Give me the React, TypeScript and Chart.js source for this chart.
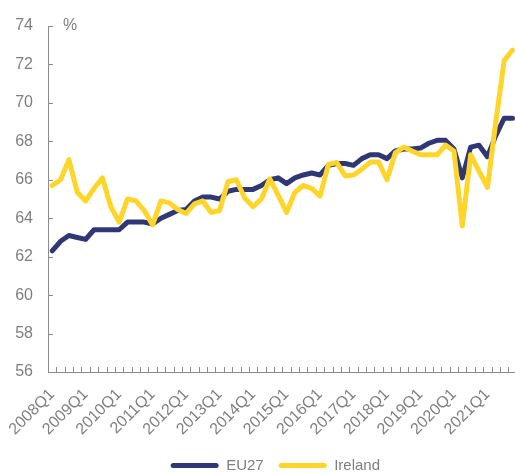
import React, { useEffect, useRef } from "react";
import { Chart, registerables } from "chart.js";

Chart.register(...registerables);

const YEARS = [2008, 2009, 2010, 2011, 2012, 2013, 2014, 2015, 2016, 2017, 2018, 2019, 2020, 2021];
const QUARTERS = ["Q1", "Q2", "Q3", "Q4"];
const CATEGORIES: string[] = YEARS.flatMap((y) => QUARTERS.map((q) => `${y}${q}`));

const EU27 = [
  62.3, 62.8, 63.1, 63.0,
  62.9, 63.4, 63.4, 63.4,
  63.4, 63.8, 63.8, 63.8,
  63.7, 64.0, 64.2, 64.4,
  64.45, 64.9, 65.1, 65.1,
  65.0, 65.4, 65.5, 65.5,
  65.5, 65.7, 66.0, 66.1,
  65.8, 66.1, 66.25, 66.35,
  66.25, 66.75, 66.85, 66.85,
  66.75, 67.1, 67.3, 67.3,
  67.1, 67.5, 67.6, 67.6,
  67.65, 67.9, 68.05, 68.05,
  67.6, 66.1, 67.7, 67.8,
  67.2, 68.3, 69.2, 69.2,
];

const IRELAND = [
  65.7, 66.0, 67.05, 65.35,
  64.9, 65.55, 66.1, 64.6,
  63.8, 65.0, 64.9, 64.4,
  63.65, 64.9, 64.8, 64.45,
  64.25, 64.75, 64.9, 64.3,
  64.4, 65.9, 66.0, 65.05,
  64.6, 65.0, 66.05, 65.2,
  64.3, 65.35, 65.7, 65.55,
  65.15, 66.8, 66.9, 66.2,
  66.25, 66.55, 66.92, 66.92,
  66.0, 67.4, 67.7, 67.5,
  67.3, 67.3, 67.3, 67.8,
  67.5, 63.6, 67.3, 66.45,
  65.6, 69.0, 72.2, 72.75,
];

const Y_MIN = 56;
const Y_MAX = 74;
const Y_STEP = 2;
const UNIT = "%";

const TEXT = "#7f7f7f";
const AXIS = "#8c8c8c";
const FONT = "'Liberation Sans', Arial, sans-serif";

const W = 520;
const H = 475;
const PLOT_BOTTOM = 372;

const decorPlugin = {
  id: "decor",
  afterLayout(chart: any) {
    const lg = chart.legend;
    if (lg) {
      const dx = 17;
      const dy = 8;
      lg.left += dx;
      lg.right += dx;
      lg.top += dy;
      lg.bottom += dy;
    }
  },
  afterDraw(chart: any) {
    const { ctx, chartArea, scales } = chart;
    const x = scales.x;
    const y = scales.y;
    ctx.save();
    ctx.strokeStyle = AXIS;
    ctx.lineWidth = 1;
    const n = CATEGORIES.length;
    const w = (x.right - x.left) / n;
    ctx.beginPath();
    for (let i = 1; i <= n; i++) {
      const px = Math.round(x.left + i * w) + 0.5;
      ctx.moveTo(px, chartArea.bottom);
      ctx.lineTo(px, chartArea.bottom - 5);
    }
    y.ticks.forEach((t: any) => {
      const py = Math.round(y.getPixelForValue(t.value)) + 0.5;
      ctx.moveTo(chartArea.left, py);
      ctx.lineTo(chartArea.left + 5, py);
    });
    ctx.stroke();
    ctx.fillStyle = TEXT;
    ctx.font = `16px ${FONT}`;
    ctx.textAlign = "left";
    ctx.textBaseline = "middle";
    ctx.fillText(UNIT, chartArea.left + 15, chartArea.top);
    ctx.restore();
  },
};

export default function App() {
  const ref = useRef<HTMLCanvasElement | null>(null);

  useEffect(() => {
    if (!ref.current) return;
    const chart = new Chart(ref.current, {
      type: "line",
      data: {
        labels: CATEGORIES,
        datasets: [
          {
            label: "EU27",
            data: EU27,
            borderColor: "#2f3875",
            backgroundColor: "#2f3875",
            borderWidth: 5,
            pointRadius: 0,
            tension: 0,
            borderJoinStyle: "round",
            borderCapStyle: "round",
            order: 1,
          },
          {
            label: "Ireland",
            data: IRELAND,
            borderColor: "#ffd52a",
            backgroundColor: "#ffd52a",
            borderWidth: 5,
            pointRadius: 0,
            tension: 0,
            borderJoinStyle: "round",
            borderCapStyle: "round",
            order: 0,
          },
        ],
      },
      options: {
        responsive: false,
        animation: false,
        layout: { padding: { top: 26, right: 3.3, left: 0, bottom: 0 } },
        plugins: {
          tooltip: { enabled: false },
          legend: {
            position: "bottom",
            labels: {
              boxWidth: 48,
              boxHeight: 5,
              padding: 15,
              color: TEXT,
              font: { family: FONT, size: 15 },
              generateLabels: (chart: any) =>
                chart.data.datasets.map((d: any, i: number) => ({
                  text: d.label,
                  fillStyle: d.borderColor,
                  strokeStyle: d.borderColor,
                  fontColor: TEXT,
                  lineWidth: 0,
                  datasetIndex: i,
                  hidden: false,
                  borderRadius: 2.5,
                })),
              useBorderRadius: true,
              borderRadius: 2.5,
            },
          },
        },
        scales: {
          x: {
            type: "category",
            offset: true,
            grid: { display: false, drawTicks: false },
            border: { display: true, color: AXIS, width: 1 },
            ticks: {
              autoSkip: false,
              maxRotation: 45,
              minRotation: 45,
              padding: 13,
              color: TEXT,
              font: { family: FONT, size: 16 },
              callback: (_v: any, i: number) => (i % 4 === 0 ? CATEGORIES[i] : ""),
            },
            afterFit: (s: any) => {
              const lh = s.chart.legend ? s.chart.legend.height : 0;
              s.height = H - PLOT_BOTTOM - lh;
              s.paddingLeft = 0;
              s.paddingRight = 0;
            },
          },
          y: {
            min: Y_MIN,
            max: Y_MAX,
            grid: { display: false, drawTicks: false },
            border: { display: true, color: AXIS, width: 1 },
            ticks: {
              stepSize: Y_STEP,
              padding: 15,
              color: TEXT,
              font: { family: FONT, size: 16 },
            },
            afterFit: (s: any) => {
              s.width = 48;
              s.paddingTop = 0;
              s.paddingBottom = 0;
            },
          },
        },
      },
      plugins: [decorPlugin],
    });
    return () => chart.destroy();
  }, []);

  return (
    <div style={{ position: "fixed", left: 0, top: 0, width: W, height: H, overflow: "hidden", background: "#fff" }}>
      <canvas ref={ref} width={W} height={H} style={{ width: W, height: H, display: "block" }} />
    </div>
  );
}
